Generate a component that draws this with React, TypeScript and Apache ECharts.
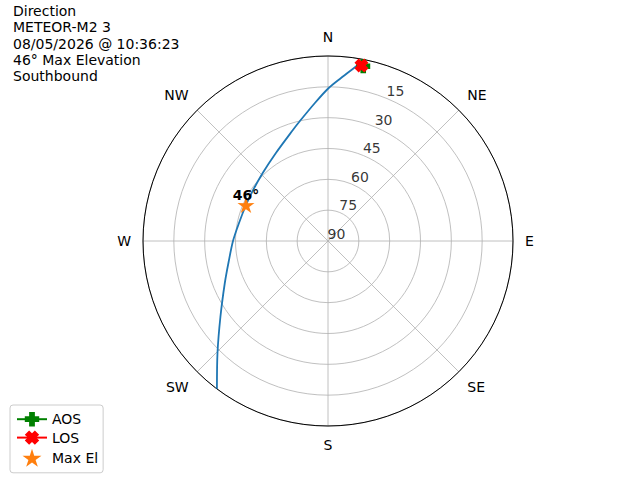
import React, { useEffect, useRef } from "react";
import * as echarts from "echarts";

const titleLines = ["Direction", "METEOR-M2 3", "08/05/2026 @ 10:36:23", "46° Max Elevation", "Southbound"];
const directions = ["N", "NE", "E", "SE", "S", "SW", "W", "NW"];
const radiusTicks = [15, 30, 45, 60, 75, 90];
const rLabelBearing = 22.5;

// pass track: azimuth (deg, clockwise from N) and elevation (deg)
const trackAz = [10.2, 8.55, 4.56, 0.26, 354.58, 346.35, 342.45, 329.37, 316.16, 302.85, 293.7, 281.43, 270, 258.07, 247.85, 234.77, 224.62, 216.9];
const trackEl = [2.25, 4.9, 10.45, 15.57, 22.56, 30.43, 33.36, 40.25, 44.14, 46.05, 46.43, 45.83, 43.78, 40.58, 35.8, 25.92, 13.46, 0];

const aosPoint = { az: 11.4, el: 3.3 };
const losPoint = { az: 10.8, el: 3.1 };
const maxElPoint = { az: 293.7, el: 46.43 };
const maxElLabel = 46;

const PLUS = "path://M3,0H7V3H10V7H7V10H3V7H0V3H3Z";
const XMARK = "path://M0,3L3,0L5,2L7,0L10,3L8,5L10,7L7,10L5,8L3,10L0,7L2,5Z";
const STAR = "path://M50,0L61.17,34.63L97.55,34.55L68.07,55.87L79.39,90.45L50,69L20.61,90.45L31.93,55.87L2.45,34.55L38.83,34.63Z";

const FONT = "DejaVu Sans";

export default function App() {
  const ref = useRef<HTMLDivElement>(null);
  useEffect(() => {
    if (!ref.current) return;
    const chart = echarts.init(ref.current, null, { renderer: "svg" });
    const trackData = trackAz.map((a, i) => [trackEl[i], a]);
    chart.setOption({
      animation: false,
      backgroundColor: "#ffffff",
      textStyle: { fontFamily: FONT },
      title: {
        text: titleLines.join("\n"),
        left: 13,
        top: 3,
        padding: 0,
        textStyle: { fontFamily: FONT, fontSize: 14, fontWeight: "normal", color: "#000", lineHeight: 16.25 },
      },
      legend: {
        data: ["AOS", "LOS", "Max El"],
        orient: "vertical",
        left: 10,
        top: 405,
        padding: [7, 5, 6, 6],
        itemGap: 4,
        itemWidth: 30,
        itemHeight: 18,
        borderColor: "#cccccc",
        borderWidth: 1,
        borderRadius: 3,
        textStyle: { fontFamily: FONT, fontSize: 14, color: "#000" },
      },
      polar: { center: [328, 241], radius: 185 },
      angleAxis: {
        type: "value",
        min: 0,
        max: 360,
        interval: 45,
        startAngle: 90,
        clockwise: true,
        axisLine: { show: true, lineStyle: { color: "#000", width: 1 } },
        axisTick: { show: false },
        splitLine: { show: true, lineStyle: { color: "#b0b0b0", width: 0.8 } },
        axisLabel: {
          show: true,
          margin: 12,
          fontFamily: FONT,
          fontSize: 14,
          color: "#000",
          formatter: (v: number) => directions[Math.round(v / 45) % 8],
        },
      },
      radiusAxis: {
        type: "value",
        min: 0,
        max: 90,
        interval: 15,
        inverse: true,
        axisLine: { show: false },
        axisTick: { show: false },
        axisLabel: { show: false },
        splitLine: { show: true, lineStyle: { color: "#b0b0b0", width: 0.8 } },
      },
      series: [
        {
          name: "ticks",
          type: "scatter",
          coordinateSystem: "polar",
          silent: true,
          symbolSize: 1,
          itemStyle: { color: "transparent" },
          data: radiusTicks.map((v) => [v, rLabelBearing]),
          label: {
            show: true,
            position: [0, 0],
            align: "left",
            verticalAlign: "bottom",
            fontFamily: FONT,
            fontSize: 14,
            color: "#000",
            formatter: (p: any) => String(p.value[0]),
          },
          z: 1,
        },
        {
          name: "Track",
          type: "line",
          coordinateSystem: "polar",
          data: trackData,
          smooth: 0.3,
          showSymbol: false,
          symbol: "none",
          lineStyle: { color: "#1f77b4", width: 1.8 },
          z: 2,
        },
        {
          name: "Max El",
          type: "scatter",
          coordinateSystem: "polar",
          data: [[maxElPoint.el, maxElPoint.az]],
          symbol: STAR,
          symbolSize: [17, 16],
          itemStyle: { color: "#ff7f0e", opacity: 1 },
          label: {
            show: true,
            position: "top",
            distance: -5,
            fontFamily: FONT,
            fontSize: 14,
            fontWeight: "bold",
            color: "#000",
            formatter: () => `${maxElLabel}°`,
          },
          z: 3,
        },
        {
          name: "AOS",
          type: "line",
          coordinateSystem: "polar",
          data: [[aosPoint.el, aosPoint.az]],
          symbol: PLUS,
          symbolSize: 14,
          showSymbol: true,
          clip: false,
          itemStyle: { color: "#008000", opacity: 1 },
          lineStyle: { color: "#008000", width: 1.5 },
          z: 4,
        },
        {
          name: "LOS",
          type: "line",
          coordinateSystem: "polar",
          data: [[losPoint.el, losPoint.az]],
          symbol: XMARK,
          symbolSize: 14,
          showSymbol: true,
          clip: false,
          itemStyle: { color: "#ff0000", opacity: 1 },
          lineStyle: { color: "#ff0000", width: 1.5 },
          z: 5,
        },
      ],
    });
    return () => chart.dispose();
  }, []);
  return (
    <div
      ref={ref}
      style={{ position: "fixed", left: 0, top: 0, width: 640, height: 480 }}
    />
  );
}
